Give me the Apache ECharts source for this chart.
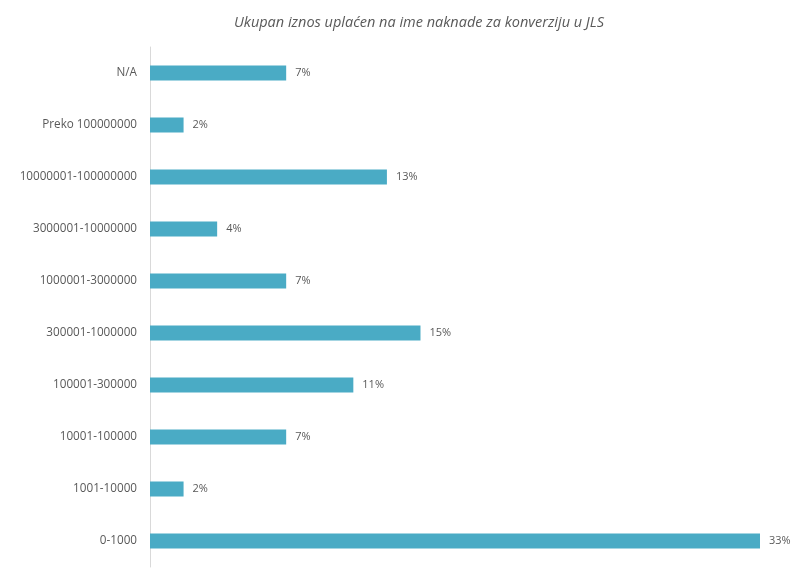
<!DOCTYPE html>
<html>
<head>
<meta charset="utf-8">
<script src="https://cdn.jsdelivr.net/npm/echarts@6/dist/echarts.min.js"></script>
<style>html,body{margin:0;padding:0;background:#fff;}#c{width:796px;height:578px;}</style>
</head>
<body>
<div id="c"></div>
<script>
const titleText = 'Ukupan iznos uplaćen na ime naknade za konverziju u JLS';
// categories listed bottom-to-top
const categories = ['0-1000', '1001-10000', '10001-100000', '100001-300000', '300001-1000000',
  '1000001-3000000', '3000001-10000000', '10000001-100000000', 'Preko 100000000', 'N/A'];
const shares = [32.7, 1.8, 7.3, 10.9, 14.5, 7.3, 3.6, 12.7, 1.8, 7.3];

const chart = echarts.init(document.getElementById('c'), null, {renderer: 'canvas'});
chart.setOption({
  backgroundColor: '#ffffff',
  animation: false,
  title: {
    text: titleText,
    left: 414, top: 10, textAlign: 'center',
    textStyle: {fontFamily: 'Open Sans', fontStyle: 'italic', fontWeight: 'normal', fontSize: 14.5, color: '#595959'}
  },
  grid: {left: 150, right: 36, top: 47, height: 520, containLabel: false},
  xAxis: {
    type: 'value', min: 0, max: 'dataMax', show: false
  },
  yAxis: {
    type: 'category', data: categories,
    axisLine: {show: true, lineStyle: {color: '#d9d9d9', width: 1}},
    axisTick: {show: false},
    axisLabel: {margin: 13, fontFamily: 'Open Sans', fontSize: 11.7, color: '#595959'}
  },
  series: [{
    type: 'bar', data: shares, barWidth: 15,
    itemStyle: {color: '#4aabc5'},
    label: {
      show: true, position: 'right', distance: 9,
      fontFamily: 'Open Sans', fontSize: 11, color: '#595959',
      formatter: p => Math.round(p.value) + '%'
    }
  }]
});
</script>
</body>
</html>
